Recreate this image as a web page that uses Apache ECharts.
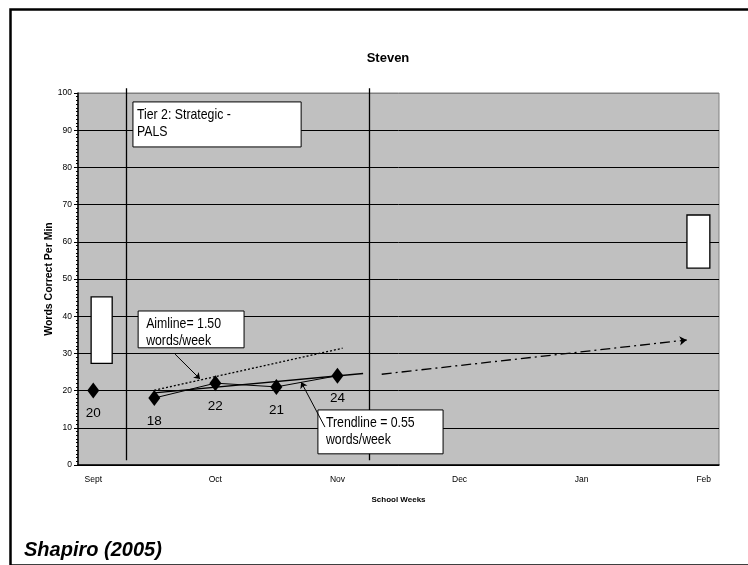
<!DOCTYPE html>
<html>
<head>
<meta charset="utf-8">
<script src="https://cdn.jsdelivr.net/npm/echarts@6/dist/echarts.min.js"></script>
<style>
  html, body { margin: 0; padding: 0; background: #fff; }
  #main { width: 748px; height: 565px; }
</style>
</head>
<body>
<div id="main"></div>
<script>
// week categories (one per school week), month names every 4th week
var weekLabels = ['Sept', '', '', '', 'Oct', '', '', '', 'Nov', '', '', '', 'Dec', '', '', '', 'Jan', '', '', '', 'Feb'];

// baseline score
var baseWeeks = [0];
var baseScores = [20];
// progress monitoring scores
var progWeeks = [2, 4, 6, 8];
var progScores = [18, 22, 21, 24];
// aimline (1.50 words/week)
var aimWeeks = [2, 8.17];
var aimScores = [20.1, 31.4];
// trendline (0.55 words/week)
var trendWeeks = [2, 8.84];
var trendScores = [19.4, 24.6];
// projected goal line
var goalWeeks = [9.45, 19.44];
var goalScores = [24.4, 33.6];
// phase change lines
var phaseWeeks = [1.07, 9.05];
var phaseFrom = 1.3;
var phaseTo = 101.3;
// benchmark ranges [weekFrom, low, weekTo, high]
var benchBoxes = [[-0.07, 27.3, 0.62, 45.2], [19.45, 52.9, 20.2, 67.2]];
// notes
var noteTexts = ['Tier 2: Strategic -\nPALS', 'Aimline= 1.50\nwords/week', 'Trendline = 0.55\nwords/week'];
var noteBoxes = [[1.30, 85.5, 6.81, 97.6], [1.47, 31.5, 4.94, 41.4], [7.36, 3.0, 11.46, 14.8]];
var noteArrows = [[[2.68, 29.8], [3.5, 23.1]], [[7.59, 10.2], [6.81, 22.3]]];

var sans = "'Liberation Sans', Arial, sans-serif";

function pairs(xs, ys) {
  var out = [];
  for (var i = 0; i < xs.length; i++) out.push([xs[i], ys[i]]);
  return out;
}

var chart = echarts.init(document.getElementById('main'));

var option = {
  animation: false,
  title: {
    text: 'Steven',
    left: 383,
    top: 47,
    textAlign: 'center',
    textStyle: { fontFamily: sans, fontSize: 13, fontWeight: 'bold', color: '#000' }
  },
  grid: {
    left: 78, right: 29, top: 93, bottom: 100,
    show: true, backgroundColor: '#c0c0c0', borderColor: '#808080', borderWidth: 1
  },
  xAxis: [{
    type: 'category',
    data: weekLabels,
    boundaryGap: true,
    name: 'School Weeks',
    nameLocation: 'middle',
    nameGap: 31,
    nameMoveOverlap: false,
    nameTextStyle: { fontFamily: sans, fontSize: 8, fontWeight: 'bold', color: '#000' },
    axisLine: { lineStyle: { color: '#000', width: 1.5 } },
    axisTick: { interval: 0, length: 4, lineStyle: { color: '#000' } },
    axisLabel: { interval: 0, margin: 10, fontFamily: sans, fontSize: 8.5, color: '#000' },
    splitLine: { show: false }
  }, {
    type: 'value',
    min: -0.5,
    max: 20.5,
    show: false
  }],
  yAxis: {
    type: 'value',
    min: 0,
    max: 100,
    interval: 10,
    name: 'Words Correct Per Min',
    nameLocation: 'middle',
    nameGap: 23,
    nameMoveOverlap: false,
    nameTextStyle: { fontFamily: sans, fontSize: 10.5, fontWeight: 'bold', color: '#000' },
    axisLine: { show: true, onZero: false, lineStyle: { color: '#000', width: 1.5 } },
    axisTick: { show: true, length: 4, lineStyle: { color: '#000' } },
    minorTick: { show: true, splitNumber: 10, length: 2, lineStyle: { color: '#000' } },
    axisLabel: { margin: 6, fontFamily: sans, fontSize: 8.5, color: '#000' },
    splitLine: { lineStyle: { color: ['#000', '#000', '#000', '#000', '#000', '#000', '#000', '#000', '#000', '#000', '#808080'], width: 1 } }
  },
  series: [
    {
      // phase change lines
      type: 'lines',
      coordinateSystem: 'cartesian2d',
      xAxisIndex: 1,
      clip: false,
      symbol: 'none',
      lineStyle: { color: '#000', width: 1.3, opacity: 1 },
      data: phaseWeeks.map(function (w) { return { coords: [[w, phaseFrom], [w, phaseTo]] }; }),
      z: 3
    },
    {
      // benchmark boxes
      type: 'custom',
      xAxisIndex: 1,
      clip: false,
      encode: { x: [0, 2], y: [1, 3] },
      data: benchBoxes,
      renderItem: function (params, api) {
        var p1 = api.coord([api.value(0), api.value(3)]);
        var p2 = api.coord([api.value(2), api.value(1)]);
        return {
          type: 'rect',
          shape: { x: p1[0], y: p1[1], width: p2[0] - p1[0], height: p2[1] - p1[1] },
          style: { fill: '#fff', stroke: '#000', lineWidth: 1.3 }
        };
      },
      z: 4
    },
    {
      name: 'Aimline',
      type: 'line',
      xAxisIndex: 1,
      data: pairs(aimWeeks, aimScores),
      symbol: 'none',
      lineStyle: { color: '#000', width: 1.3, type: [2, 2] },
      z: 5
    },
    {
      name: 'Trendline',
      type: 'line',
      xAxisIndex: 1,
      data: pairs(trendWeeks, trendScores),
      symbol: 'none',
      lineStyle: { color: '#000', width: 1.3 },
      z: 5
    },
    {
      // projected goal line
      type: 'lines',
      coordinateSystem: 'cartesian2d',
      xAxisIndex: 1,
      symbol: ['none', 'arrow'],
      symbolSize: 7,
      lineStyle: { color: '#000', width: 1.3, type: [10, 4, 2, 4], opacity: 1 },
      data: [{ coords: pairs(goalWeeks, goalScores) }],
      z: 5
    },
    {
      name: 'Baseline',
      type: 'scatter',
      xAxisIndex: 1,
      data: pairs(baseWeeks, baseScores),
      symbol: 'diamond',
      symbolSize: [12, 16],
      itemStyle: { color: '#000', opacity: 1 },
      label: { show: true, position: 'bottom', distance: 8, formatter: function (p) { return p.value[1]; }, fontFamily: sans, fontSize: 13.5, color: '#000' },
      z: 6
    },
    {
      name: 'Scores',
      type: 'line',
      xAxisIndex: 1,
      data: pairs(progWeeks, progScores),
      symbol: 'diamond',
      symbolSize: [12, 16],
      showAllSymbol: true,
      lineStyle: { color: '#000', width: 1 },
      itemStyle: { color: '#000', opacity: 1 },
      label: { show: true, position: 'bottom', distance: 8, formatter: function (p) { return p.value[1]; }, fontFamily: sans, fontSize: 13.5, color: '#000' },
      z: 6
    },
    {
      // note boxes
      type: 'custom',
      xAxisIndex: 1,
      clip: false,
      encode: { x: [0, 2], y: [1, 3] },
      data: noteBoxes.map(function (b, i) { return b.concat([i]); }),
      renderItem: function (params, api) {
        var p1 = api.coord([api.value(0), api.value(3)]);
        var p2 = api.coord([api.value(2), api.value(1)]);
        var padX = params.dataIndex === 0 ? 4 : 8;
        return {
          type: 'group',
          children: [{
            type: 'rect',
            shape: { x: p1[0], y: p1[1], width: p2[0] - p1[0], height: p2[1] - p1[1] },
            style: { fill: '#fff', stroke: '#000', lineWidth: 1 }
          }, {
            type: 'text',
            x: p1[0] + padX,
            y: p1[1] + 4,
            scaleX: 0.82,
            style: {
              text: noteTexts[params.dataIndex],
              fontFamily: sans,
              fontSize: 15,
              lineHeight: 17,
              fill: '#000',
              verticalAlign: 'top',
              align: 'left'
            }
          }]
        };
      },
      z: 7
    },
    {
      // note arrows
      type: 'lines',
      coordinateSystem: 'cartesian2d',
      xAxisIndex: 1,
      symbol: ['none', 'arrow'],
      symbolSize: 6,
      lineStyle: { color: '#000', width: 1, opacity: 1 },
      data: noteArrows.map(function (a) { return { coords: a }; }),
      z: 8
    }
  ],
  graphic: [
    {
      type: 'rect',
      left: 8, top: 7,
      shape: { width: 800, height: 556 },
      style: { fill: 'none', stroke: '#000', lineWidth: 2.5 },
      silent: true
    },
    {
      type: 'text',
      left: 24, top: 540,
      style: {
        text: 'Shapiro (2005)',
        fontFamily: sans,
        fontSize: 20,
        fontWeight: 'bold',
        fontStyle: 'italic',
        fill: '#000'
      }
    }
  ]
};

chart.setOption(option);
</script>
</body>
</html>
